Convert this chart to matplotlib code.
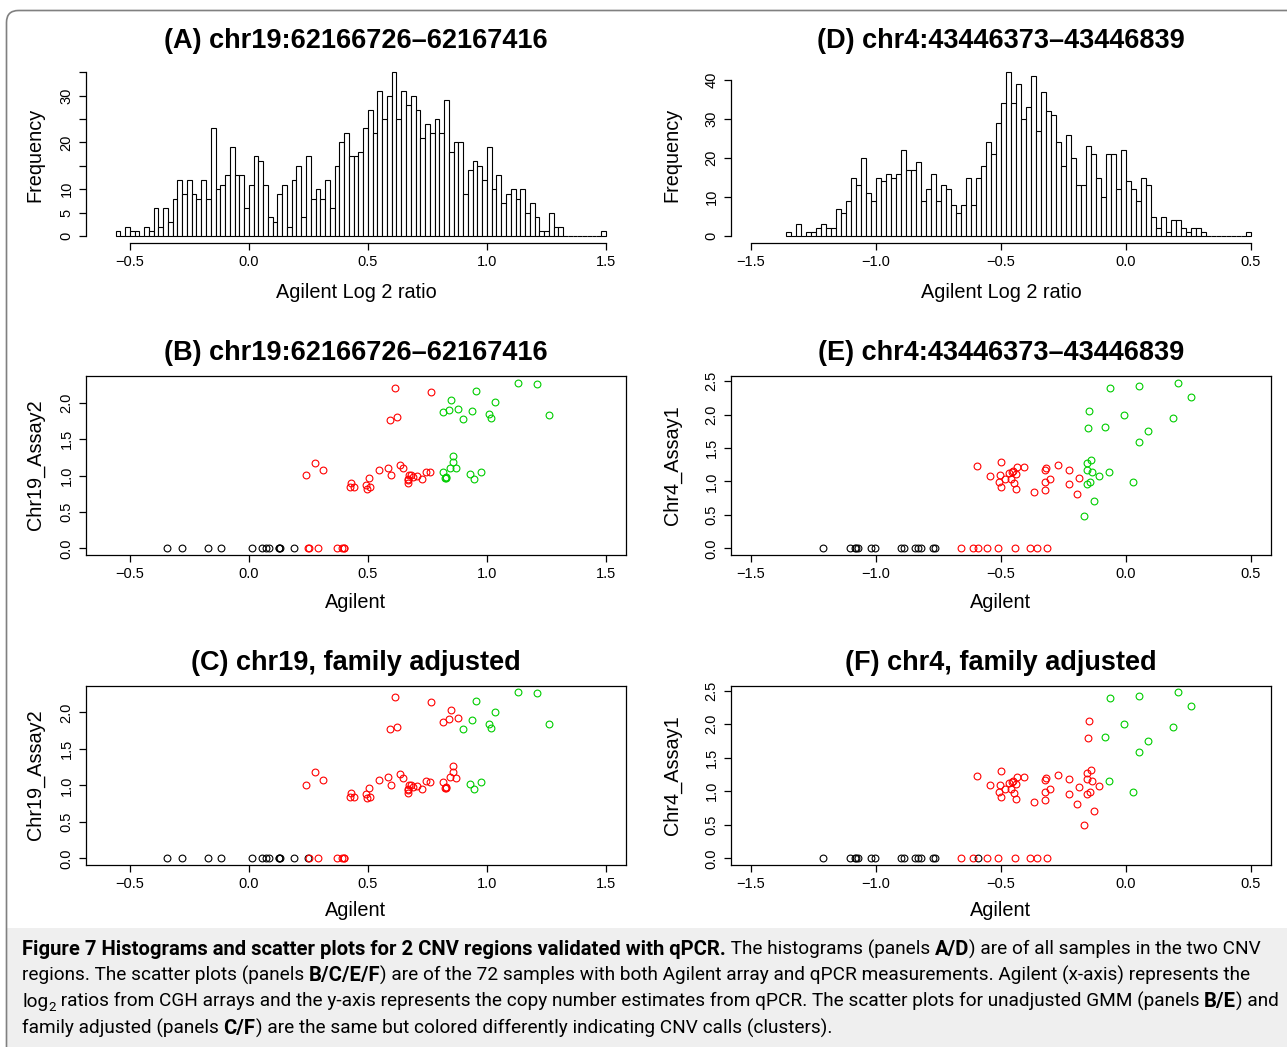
import matplotlib
matplotlib.use('Agg')
import matplotlib.pyplot as plt
import numpy as np
from matplotlib.transforms import Affine2D
from matplotlib.patches import FancyBboxPatch, Rectangle

W, H = 1287, 1047

# histogram counts (bin width 0.02)
bin_width = 0.02
chr19_bin_start = -0.56
chr19_counts = [1, 0, 2, 1, 1, 0, 2, 1, 6, 2,
                6, 3, 8, 12, 9, 12, 9, 8, 12, 8,
                23, 10, 11, 13, 19, 13, 13, 6, 11, 17,
                16, 11, 4, 3, 9, 11, 2, 12, 15, 4,
                17, 8, 10, 8, 12, 6, 15, 20, 22, 17,
                17, 18, 23, 27, 22, 31, 25, 30, 35, 25,
                31, 28, 30, 27, 21, 24, 22, 25, 22, 29,
                18, 20, 20, 9, 14, 16, 15, 12, 19, 10,
                13, 7, 9, 10, 8, 10, 5, 7, 4, 1,
                1, 5, 2, 2, 0, 0, 0, 0, 0, 0,
                0, 0, 1]
chr4_bin_start = -1.36
chr4_counts = [1, 0, 3, 0, 1, 1, 2, 3, 2, 2,
               7, 6, 9, 15, 13, 20, 11, 9, 15, 14,
               16, 15, 16, 22, 17, 17, 19, 9, 12, 16,
               9, 13, 12, 8, 6, 8, 15, 8, 15, 18,
               24, 21, 29, 34, 42, 34, 39, 30, 33, 41,
               27, 37, 32, 31, 24, 18, 26, 20, 13, 13,
               23, 21, 15, 10, 21, 21, 12, 22, 14, 12,
               9, 15, 13, 5, 2, 5, 1, 4, 4, 2,
               1, 2, 2, 1, 0, 0, 0, 0, 0, 0,
               0, 0, 1]

# scatter data: 0 = black, 1 = red, 2 = green
chr19_agilent = [-0.343, -0.280, -0.170, -0.119, 0.013, 0.054, 0.074, 0.084, 0.125, 0.130, 0.128, 0.188,
                 0.249, 0.254, 0.290, 0.370, 0.392, 0.401, 0.398,
                 0.241, 0.278, 0.313, 0.428, 0.424, 0.442, 0.490, 0.496, 0.508, 0.503, 0.548, 0.584,
                 0.598, 0.633, 0.649, 0.669, 0.669, 0.674, 0.683, 0.691, 0.707, 0.729, 0.742, 0.762, 0.670,
                 0.612, 0.593, 0.622, 0.766,
                 0.848, 0.817, 0.841, 0.877, 0.898, 0.939, 0.955, 1.007, 1.018, 1.035, 1.132, 1.210, 1.262,
                 0.857, 0.858, 0.843, 0.868, 0.814, 0.824, 0.828, 0.826, 0.928, 0.945, 0.977]
chr19_qpcr = [0, 0, 0, 0, 0, 0, 0, 0, 0, 0, 0, 0,
              0, 0, 0, 0, 0, 0, 0,
              1.008, 1.179, 1.073, 0.892, 0.846, 0.837, 0.878, 0.823, 0.846, 0.971, 1.073, 1.110,
              1.008, 1.151, 1.100, 0.897, 0.934, 1.008, 1.003, 0.980, 0.989, 0.957, 1.054, 1.045, 0.950,
              2.210, 1.771, 1.803, 2.150,
              2.039, 1.872, 1.905, 1.919, 1.780, 1.891, 2.164, 1.845, 1.789, 2.011, 2.279, 2.261, 1.840,
              1.271, 1.184, 1.110, 1.100, 1.049, 0.971, 0.962, 0.980, 1.026, 0.957, 1.049]
chr19_call_gmm = [0] * 12 + [1] * 7 + [1] * 25 + [1] * 4 + [2] * 13 + [2] * 11
chr19_call_fam = [0] * 12 + [0] + [1] * 6 + [1] * 25 + [1] * 4 + [1] * 4 + [2] * 9 + [1] * 8 + [2] * 3

chr4_agilent = [-1.211, -1.103, -1.083, -1.080, -1.074, -1.022, -1.003, -0.901, -0.887, -0.845, -0.833, -0.822,
                -0.773, -0.763,
                -0.662, -0.611, -0.594, -0.556, -0.511, -0.444, -0.384, -0.358, -0.315,
                -0.598, -0.500, -0.546, -0.506, -0.509, -0.502, -0.486, -0.468, -0.459, -0.452, -0.450,
                -0.441, -0.435, -0.441, -0.410, -0.368, -0.326, -0.320, -0.326, -0.323, -0.303, -0.274,
                -0.229, -0.230, -0.188, -0.196, -0.455,
                -0.065, 0.051, 0.207, 0.259, -0.007, 0.187, -0.085, 0.089, 0.053, -0.069, 0.029,
                -0.147, -0.153, -0.157, -0.139, -0.155, -0.136, -0.108, -0.144, -0.157, -0.129, -0.168]
chr4_qpcr = [0] * 14 + [0] * 9 + \
            [1.226, 1.296, 1.086, 1.096, 0.991, 0.911, 1.041, 1.126, 1.036, 1.156, 0.976,
             1.106, 1.216, 0.881, 1.211, 0.841, 1.166, 1.201, 0.986, 0.871, 1.041, 1.246,
             1.176, 0.956, 1.056, 0.811, 1.140,
             2.397, 2.427, 2.477, 2.267, 1.997, 1.952, 1.812, 1.752, 1.592, 1.146, 0.986,
             2.047, 1.792, 1.276, 1.316, 1.176, 1.146, 1.076, 0.991, 0.956, 0.711, 0.490]
chr4_call_gmm = [0] * 14 + [1] * 9 + [1] * 27 + [2] * 11 + [2] * 11
chr4_call_fam = [0] * 14 + [1, 1, 0] + [1] * 6 + [1] * 27 + [2] * 11 + [1] * 11

colors = {0: 'black', 1: '#ff0000', 2: '#00cd00'}

plot_font = 'Liberation Sans'
plt.rcParams['font.family'] = [plot_font, 'DejaVu Sans']
plt.rcParams['axes.linewidth'] = 0.9
plt.rcParams['xtick.major.width'] = 0.9
plt.rcParams['ytick.major.width'] = 0.9
plt.rcParams['xtick.major.size'] = 5
plt.rcParams['ytick.major.size'] = 5
plt.rcParams['xtick.labelsize'] = 10.5
plt.rcParams['ytick.labelsize'] = 10.5

fig = plt.figure(figsize=(W / 100, H / 100), dpi=100)
pix = Affine2D().scale(1 / W, -1 / H).translate(0, 1) + fig.transFigure


def px_axes(l, t, r, b):
    return fig.add_axes([l / W, 1 - b / H, (r - l) / W, (b - t) / H])


def fmt(v):
    s = '%.1f' % v
    return s.replace('-', '\u2212')


def style_ticks(ax, xt, yt, ylabels=None):
    ax.set_xticks(xt)
    ax.set_xticklabels([fmt(v) for v in xt])
    ax.set_yticks(yt)
    if ylabels is None:
        ylabels = [fmt(v) for v in yt]
    ax.set_yticklabels(ylabels)
    ax.tick_params(direction='out', pad=4)
    ax.tick_params(axis='y', labelrotation=90)
    for lab in ax.get_yticklabels():
        lab.set_va('center')


def histogram(ax, start, counts, xlim, xt, yt, ylabels, ytop):
    counts = np.array(counts, dtype=float)
    edges = np.round(start + bin_width * np.arange(len(counts) + 1), 2)
    centers = (edges[:-1] + edges[1:]) / 2
    ax.hist(centers, bins=edges, weights=counts, facecolor='white',
            edgecolor='black', linewidth=0.8)
    ymax = counts.max()
    ax.set_xlim(xlim[0] - 0.04 * (xlim[1] - xlim[0]), xlim[1] + 0.04 * (xlim[1] - xlim[0]))
    ax.set_ylim(-0.04 * ymax, ymax * 1.04)
    for s in ['top', 'right']:
        ax.spines[s].set_visible(False)
    ax.spines['left'].set_bounds(0, ytop)
    ax.spines['bottom'].set_bounds(xt[0], xt[-1])
    style_ticks(ax, xt, yt, ylabels)


def scatter(ax, x, y, calls, xlim, xt, yt):
    x = np.array(x)
    y = np.array(y)
    calls = np.array(calls)
    for c in [0, 1, 2]:
        m = calls == c
        ax.plot(x[m], y[m], 'o', mfc='none', mec=colors[c], ms=4.9, mew=0.8)
    ax.set_xlim(xlim[0] - 0.04 * (xlim[1] - xlim[0]), xlim[1] + 0.04 * (xlim[1] - xlim[0]))
    r = y.max() - y.min()
    ax.set_ylim(y.min() - 0.04 * r, y.max() + 0.04 * r)
    style_ticks(ax, xt, yt)


xl19 = (-0.6, 1.5)
xl4 = (-1.5, 0.5)
xt19 = [-0.5, 0.0, 0.5, 1.0, 1.5]
xt4 = [-1.5, -1.0, -0.5, 0.0, 0.5]

axA = px_axes(86, 65.6, 626, 242.6)
histogram(axA, chr19_bin_start, chr19_counts, xl19, xt19,
          [0, 5, 10, 15, 20, 25, 30, 35], ['0', '5', '10', '', '20', '', '30', ''], 35)
axD = px_axes(731, 65.6, 1271, 242.6)
histogram(axD, chr4_bin_start, chr4_counts, xl4, xt4,
          [0, 10, 20, 30, 40], ['0', '10', '20', '30', '40'], 40)

axB = px_axes(86, 376, 626, 555)
scatter(axB, chr19_agilent, chr19_qpcr, chr19_call_gmm, xl19, xt19, [0, 0.5, 1.0, 1.5, 2.0])
axC = px_axes(86, 685.5, 626, 865)
scatter(axC, chr19_agilent, chr19_qpcr, chr19_call_fam, xl19, xt19, [0, 0.5, 1.0, 1.5, 2.0])
axE = px_axes(731, 376, 1271, 555)
scatter(axE, chr4_agilent, chr4_qpcr, chr4_call_gmm, xl4, xt4, [0, 0.5, 1.0, 1.5, 2.0, 2.5])
axF = px_axes(731, 685.5, 1271, 865)
scatter(axF, chr4_agilent, chr4_qpcr, chr4_call_fam, xl4, xt4, [0, 0.5, 1.0, 1.5, 2.0, 2.5])

# titles and axis labels
titles = [(356, 41, '(A) chr19:62166726\u201362167416'), (1001, 41, '(D) chr4:43446373\u201343446839'),
          (356, 353, '(B) chr19:62166726\u201362167416'), (1001, 353, '(E) chr4:43446373\u201343446839'),
          (356, 663, '(C) chr19, family adjusted'), (1001, 663, '(F) chr4, family adjusted')]
for x, y, t in titles:
    fig.text(x, y, t, transform=pix, ha='center', va='center', fontsize=19.5, fontweight='bold')

for x in [356, 1001]:
    fig.text(x, 293, 'Agilent Log 2 ratio', transform=pix, ha='center', va='center', fontsize=14.3)
    fig.text(x, 602, 'Agilent', transform=pix, ha='center', va='center', fontsize=14.3)
    fig.text(x, 911, 'Agilent', transform=pix, ha='center', va='center', fontsize=14.3)
for x in [35, 672]:
    fig.text(x, 155, 'Frequency', transform=pix, ha='center', va='center', rotation=90, fontsize=14.3)
fig.text(35, 465, 'Chr19_Assay2', transform=pix, ha='center', va='center', rotation=90, fontsize=14.3)
fig.text(35, 775, 'Chr19_Assay2', transform=pix, ha='center', va='center', rotation=90, fontsize=14.3)
fig.text(672, 465, 'Chr4_Assay1', transform=pix, ha='center', va='center', rotation=90, fontsize=14.3)
fig.text(672, 775, 'Chr4_Assay1', transform=pix, ha='center', va='center', rotation=90, fontsize=14.3)

# frame and caption background
fig.patches.append(Rectangle((6, 928), 1300, 130, transform=pix, facecolor='#efefef',
                             edgecolor='none', zorder=-2))
fig.patches.append(FancyBboxPatch((6.5, 10.5), 1300, 1060, transform=pix,
                                  boxstyle='round,pad=0,rounding_size=12',
                                  facecolor='none', edgecolor='#808080', linewidth=1.2, zorder=-1))

cap_font = ['Liberation Sans Narrow', 'Roboto', 'DejaVu Sans']
caption = [
    [('Figure 7 Histograms and scatter plots for 2 CNV regions validated with qPCR.', 'bold', 0),
     (' The histograms (panels ', 'normal', 0), ('A/D', 'bold', 0),
     (') are of all samples in the two CNV', 'normal', 0)],
    [('regions. The scatter plots (panels ', 'normal', 0), ('B/C/E/F', 'bold', 0),
     (') are of the 72 samples with both Agilent array and qPCR measurements. Agilent (x-axis) represents the',
      'normal', 0)],
    [('log', 'normal', 0), ('2', 'normal', 1),
     (' ratios from CGH arrays and the y-axis represents the copy number estimates from qPCR. '
      'The scatter plots for unadjusted GMM (panels ', 'normal', 0), ('B/E', 'bold', 0), (') and', 'normal', 0)],
    [('family adjusted (panels ', 'normal', 0), ('C/F', 'bold', 0),
     (') are the same but colored differently indicating CNV calls (clusters).', 'normal', 0)],
]
baselines = [955, 981, 1007, 1034]
bold_scale = 1.06

renderer = fig.canvas.get_renderer()


def draw_line(segs, ybase, size, keep=True):
    x = 22
    made = []
    for txt, weight, sub in segs:
        fs = size * 0.7 if sub else size
        if weight == 'bold':
            fs = fs * bold_scale
        yy = ybase + (4 if sub else 0)
        t = fig.text(x, yy, txt, transform=pix, ha='left', va='baseline', fontsize=fs,
                     fontweight=weight, family=cap_font)
        x += t.get_window_extent(renderer).width
        made.append(t)
    if not keep:
        for t in made:
            t.remove()
    return x - 22


w = draw_line(caption[1], baselines[1], 14, keep=False)
cap_size = 14 * 1240 / w
for segs, yb in zip(caption, baselines):
    draw_line(segs, yb, cap_size)

fig.savefig('out.png', dpi=100)
